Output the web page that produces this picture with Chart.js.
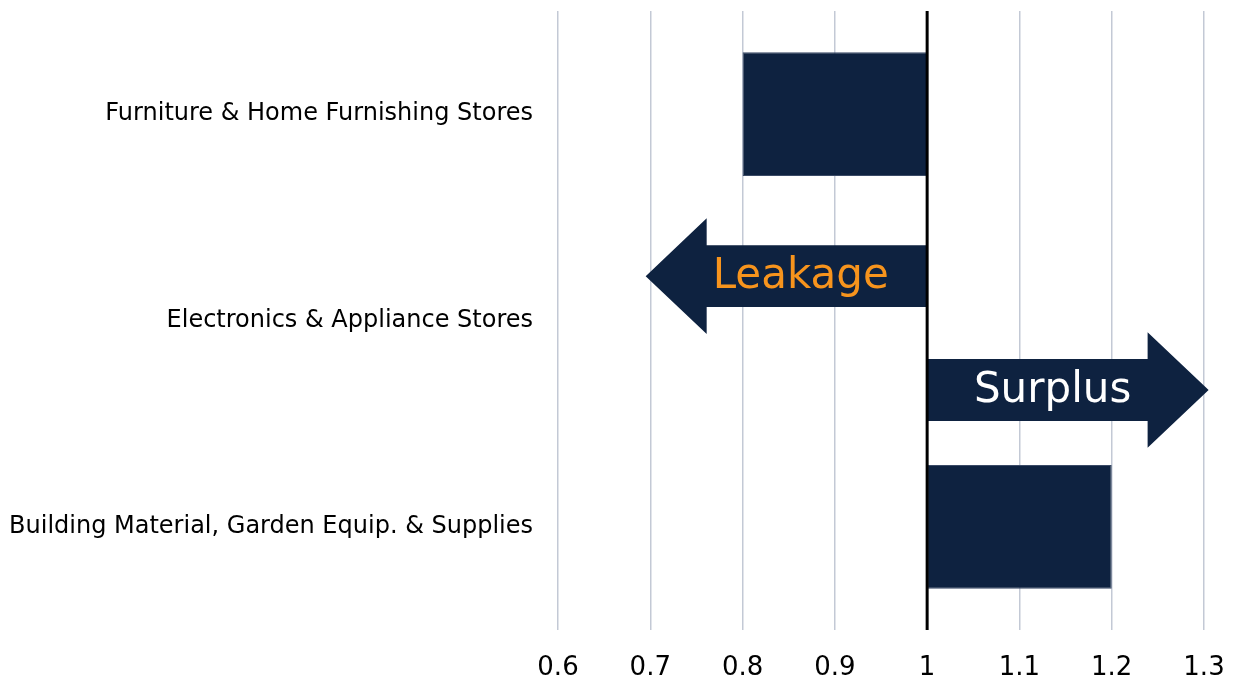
<!DOCTYPE html>
<html lang="en">
<head>
    <meta charset="UTF-8">
    <title>Leakage / Surplus</title>
    <script src="https://cdn.jsdelivr.net/npm/chart.js"></script>
    <style>
        html, body {
            margin: 0;
            padding: 0;
            background: #ffffff;
        }
        #wrap {
            width: 1236px;
            height: 685px;
        }
    </style>
</head>
<body>
    <div id="wrap"><canvas id="gapChart"></canvas></div>

    <script>
        // data
        const categories = ['Furniture & Home Furnishing Stores', 'Electronics & Appliance Stores', 'Building Material, Garden Equip. & Supplies'];
        const barStart = [0.8, null, 1];
        const barEnd = [1, null, 1.2];
        const tickValues = [0.6, 0.7, 0.8, 0.9, 1, 1.1, 1.2, 1.3];
        const baseline = 1;

        // annotation arrows (value units on x, category index on y)
        const arrowLabels = ['Leakage', 'Surplus'];
        const arrowFrom = [1, 1];
        const arrowTo = [0.695, 1.305];
        const arrowRow = [0.785, 1.337];
        const arrowTextAt = [0.863, 1.136];
        const arrowTextColor = ['#f7941d', '#ffffff'];

        const navy = '#0e2240';
        const fontFamily = '"DejaVu Sans", Verdana, sans-serif';

        const arrowPlugin = {
            id: 'arrows',
            afterDatasetsDraw(chart) {
                const ctx = chart.ctx;
                const xs = chart.scales.x;
                const ys = chart.scales.y;
                const band = ys.getPixelForValue(1) - ys.getPixelForValue(0);
                const shaft = band * 0.15;
                const head = band * 0.28;
                ctx.save();
                for (let i = 0; i < arrowLabels.length; i++) {
                    const x0 = xs.getPixelForValue(arrowFrom[i]);
                    const x1 = xs.getPixelForValue(arrowTo[i]);
                    const dir = x1 > x0 ? 1 : -1;
                    const hb = x1 - dir * 61;
                    const cy = ys.getPixelForValue(arrowRow[i]);
                    ctx.beginPath();
                    ctx.moveTo(x0, cy - shaft);
                    ctx.lineTo(hb, cy - shaft);
                    ctx.lineTo(hb, cy - head);
                    ctx.lineTo(x1, cy);
                    ctx.lineTo(hb, cy + head);
                    ctx.lineTo(hb, cy + shaft);
                    ctx.lineTo(x0, cy + shaft);
                    ctx.closePath();
                    ctx.fillStyle = navy;
                    ctx.fill();

                    ctx.fillStyle = arrowTextColor[i];
                    ctx.font = '42px ' + fontFamily;
                    ctx.textAlign = 'center';
                    ctx.textBaseline = 'middle';
                    ctx.fillText(arrowLabels[i], xs.getPixelForValue(arrowTextAt[i]), cy + 1);
                }

                // black line at 1
                const bx = xs.getPixelForValue(baseline);
                ctx.beginPath();
                ctx.moveTo(bx, chart.chartArea.top);
                ctx.lineTo(bx, chart.chartArea.bottom);
                ctx.lineWidth = 3;
                ctx.strokeStyle = '#000000';
                ctx.stroke();
                ctx.restore();
            }
        };

        const ctx = document.getElementById('gapChart').getContext('2d');
        new Chart(ctx, {
            type: 'bar',
            data: {
                labels: categories,
                datasets: [{
                    data: categories.map((c, i) => barStart[i] === null ? null : [barStart[i], barEnd[i]]),
                    backgroundColor: navy,
                    borderColor: '#3a4a66',
                    borderWidth: 1,
                    borderSkipped: false,
                    barPercentage: 0.6,
                    categoryPercentage: 1
                }]
            },
            options: {
                indexAxis: 'y',
                responsive: true,
                maintainAspectRatio: false,
                animation: false,
                layout: {
                    padding: { top: 11, right: 32, left: 0, bottom: 0 }
                },
                scales: {
                    x: {
                        min: 0.6,
                        max: 1.3,
                        afterBuildTicks: (scale) => {
                            scale.ticks = tickValues.map(v => ({ value: v }));
                        },
                        afterFit: (scale) => {
                            scale.height = 55;
                            scale.paddingLeft = 0;
                            scale.paddingRight = 0;
                            scale.paddingTop = 0;
                            scale.paddingBottom = 0;
                        },
                        ticks: {
                            color: '#000000',
                            padding: 23,
                            maxRotation: 0,
                            font: { family: fontFamily, size: 26 },
                            callback: (v) => String(Math.round(v * 10) / 10)
                        },
                        grid: {
                            color: '#c3c9d5',
                            lineWidth: 1.5,
                            drawTicks: false
                        },
                        border: { display: false }
                    },
                    y: {
                        afterFit: (scale) => {
                            scale.width = 558;
                            scale.paddingLeft = 0;
                            scale.paddingRight = 0;
                            scale.paddingTop = 0;
                            scale.paddingBottom = 0;
                        },
                        ticks: {
                            color: '#000000',
                            padding: 17,
                            font: { family: fontFamily, size: 24 }
                        },
                        grid: { display: false },
                        border: { display: false }
                    }
                },
                plugins: {
                    legend: { display: false },
                    tooltip: { enabled: false }
                }
            },
            plugins: [arrowPlugin]
        });
    </script>
</body>
</html>
